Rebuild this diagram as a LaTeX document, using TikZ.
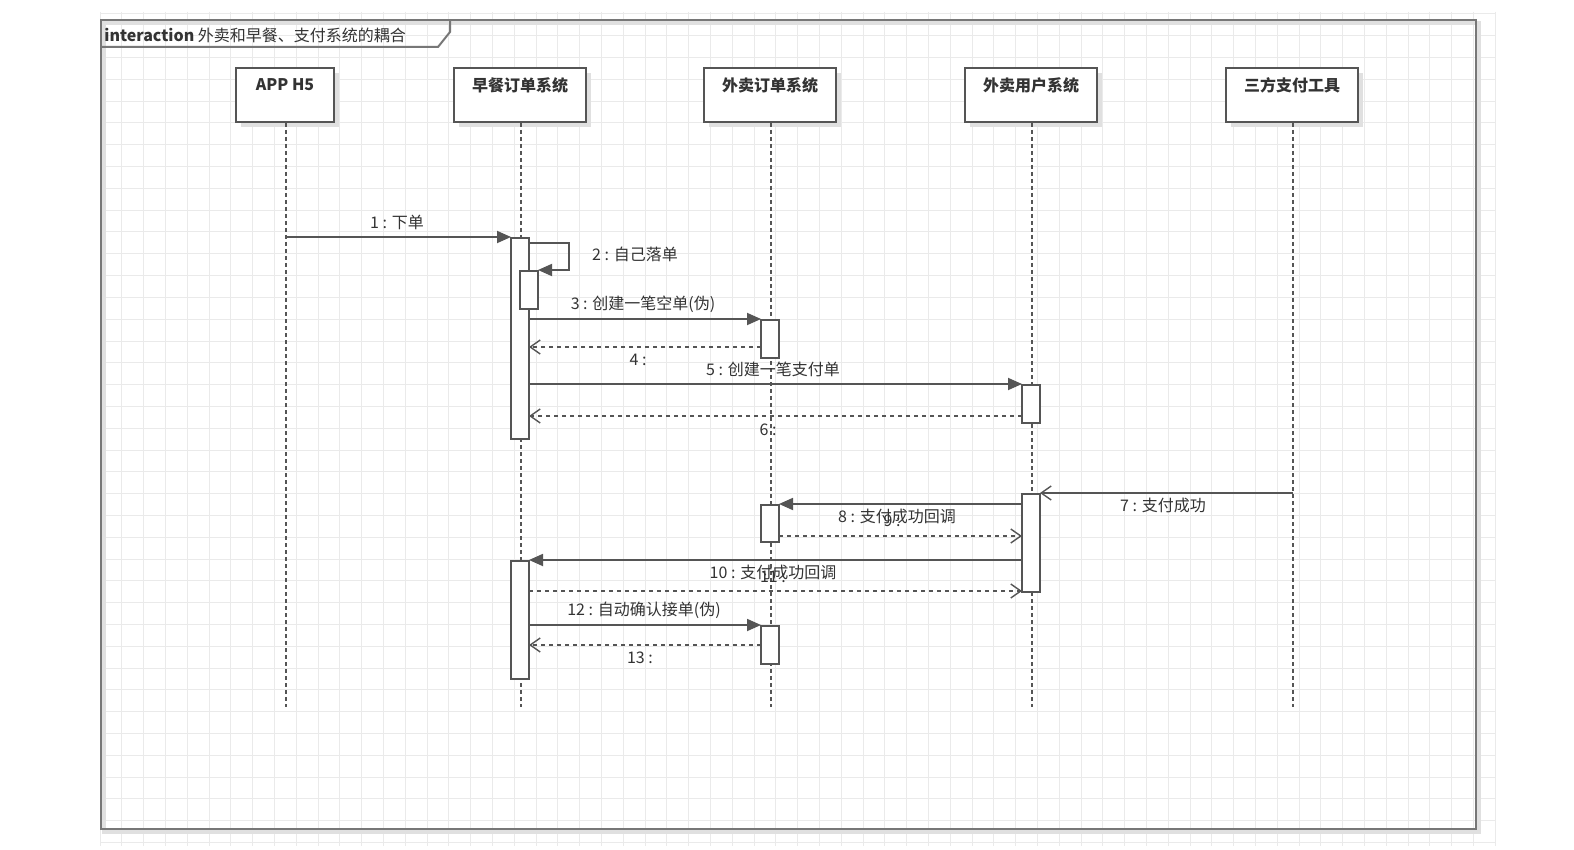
\documentclass[tikz,border=0pt]{standalone}
\usepackage{fontspec}
\setmainfont{Noto Sans CJK SC}
\usetikzlibrary{arrows.meta,shadows}
\definecolor{linec}{HTML}{555555}
\definecolor{txtc}{HTML}{333333}
\definecolor{gridc}{HTML}{EAEAEA}
\tikzset{
  head/.style={draw=linec, line width=1pt, fill=white, minimum width=66pt, minimum height=27pt, inner sep=0pt,
    drop shadow={shadow xshift=2.5pt, shadow yshift=-2.5pt, fill=black!12, opacity=1}},
  headtxt/.style={font=\bfseries\fontsize{8}{9}\selectfont, text=txtc, inner sep=0pt},
  life/.style={draw=linec, dash pattern=on 2pt off 1.5pt, line width=0.6pt},
  act/.style={draw=linec, line width=0.9pt, fill=white, minimum width=9pt, inner sep=0pt},
  msg/.style={draw=linec, line width=0.9pt, -{Triangle[length=7pt,width=6pt]}},
  async/.style={draw=linec, line width=0.9pt, -{Straight Barb[length=5pt,width=7pt,line width=0.7pt]}},
  ret/.style={draw=linec, line width=0.7pt, dash pattern=on 2pt off 2pt, -{Straight Barb[length=5pt,width=7pt,line width=0.7pt,sep=0pt]}},
  lbl/.style={font=\fontsize{8}{9}\selectfont, text=txtc, inner sep=0pt},
}
\begin{document}
\begin{tikzpicture}[x=0.5pt,y=-0.5pt]
\useasboundingbox (0,0) rectangle (1574,850);
\fill[white] (0,0) rectangle (1574,850);
% grid
\foreach \i in {0,...,64} {\draw[gridc, line width=0.5pt] ({100+21.8*\i},12) -- ({100+21.8*\i},846);}
\foreach \j in {0,...,38} {\draw[gridc, line width=0.5pt] (100,{14+21.8*\j}) -- (1496,{14+21.8*\j});}
% frame
\draw[black!12, line width=2pt] (104,23) rectangle (1479,832);
\draw[linec!80, line width=1.2pt] (101,20) rectangle (1476,829);
\node[lbl, anchor=west] (frametxt) at (104,35) {\textbf{interaction} 外卖和早餐、支付系统的耦合};
\draw[linec!80, line width=1pt] (101,47) -- (438,47) -- (450,32) -- (450,20);
% heads
\node[head, minimum width=49pt] (h1) at (285,95) {};
\node[head] (h2) at (520,95) {};
\node[head] (h3) at (770,95) {};
\node[head] (h4) at (1031,95) {};
\node[head] (h5) at (1292,95) {};
\node[headtxt] (t1) at (285,85) {APP H5};
\node[headtxt] (t2) at (520,85) {早餐订单系统};
\node[headtxt] (t3) at (770,85) {外卖订单系统};
\node[headtxt] (t4) at (1031,85) {外卖用户系统};
\node[headtxt] (t5) at (1292,85) {三方支付工具};
% lifelines
\coordinate (e1) at (286,707);
\coordinate (e2) at (521,707);
\coordinate (e3) at (771,707);
\coordinate (e4) at (1032,707);
\coordinate (e5) at (1293,707);
\draw[life] (h1.south -| e1) -- (e1);
\draw[life] (h2.south -| e2) -- (e2);
\draw[life] (h3.south -| e3) -- (e3);
\draw[life] (h4.south -| e4) -- (e4);
\draw[life] (h5.south -| e5) -- (e5);
% activations
\node[act, minimum height=100.5pt, anchor=north] (a1) at (520,237) {};
\node[act, minimum height=19pt, anchor=north] (a2) at (529,270) {};
\node[act, minimum height=19pt, anchor=north] (b1) at (770,319) {};
\node[act, minimum height=19pt, anchor=north] (c1) at (1031,384) {};
\node[act, minimum height=49pt, anchor=north] (c2) at (1031,493) {};
\node[act, minimum height=18.5pt, anchor=north] (b2) at (770,504) {};
\node[act, minimum height=59pt, anchor=north] (a3) at (520,560) {};
\node[act, minimum height=19pt, anchor=north] (b3) at (770,625) {};
% message points
\coordinate (m1s) at (286,237); \coordinate (m1e) at (511,237);
\coordinate (m2a) at (529,243); \coordinate (m2b) at (569,243); \coordinate (m2c) at (569,270); \coordinate (m2e) at (538,270);
\coordinate (m3s) at (529,319); \coordinate (m3e) at (761,319);
\coordinate (m4s) at (761,347); \coordinate (m4e) at (529,347);
\coordinate (m5s) at (529,384); \coordinate (m5e) at (1022,384);
\coordinate (m6s) at (1022,416); \coordinate (m6e) at (529,416);
\coordinate (m7s) at (1293,493); \coordinate (m7e) at (1040,493);
\coordinate (m8s) at (1022,504); \coordinate (m8e) at (779,504);
\coordinate (m9s) at (779,536); \coordinate (m9e) at (1022,536);
\coordinate (m10s) at (1022,560); \coordinate (m10e) at (529,560);
\coordinate (m11s) at (529,591); \coordinate (m11e) at (1022,591);
\coordinate (m12s) at (529,625); \coordinate (m12e) at (761,625);
\coordinate (m13s) at (761,645); \coordinate (m13e) at (529,645);
\draw[msg] (m1s) -- (m1e);
\draw[msg] (m2a) -- (m2b) -- (m2c) -- (m2e);
\draw[msg] (m3s) -- (m3e);
\draw[ret] (m4s) -- (m4e);
\draw[msg] (m5s) -- (m5e);
\draw[ret] (m6s) -- (m6e);
\draw[async] (m7s) -- (m7e);
\draw[msg] (m8s) -- (m8e);
\draw[ret] (m9s) -- (m9e);
\draw[msg] (m10s) -- (m10e);
\draw[ret] (m11s) -- (m11e);
\draw[msg] (m12s) -- (m12e);
\draw[ret] (m13s) -- (m13e);
% labels
\node[lbl] (l1) at (397,222) {1 : 下单};
\node[lbl] (l2) at (635,254) {2 : 自己落单};
\node[lbl] (l3) at (643,304) {3 : 创建一笔空单(伪)};
\node[lbl] (l4) at (638,360) {4 :};
\node[lbl] (l5) at (773,369) {5 : 创建一笔支付单};
\node[lbl] (l6) at (768,430) {6 :};
\node[lbl] (l7) at (1163,505) {7 : 支付成功};
\node[lbl] (l8) at (897,516) {8 : 支付成功回调};
\node[lbl] (l9) at (892,521) {9 :};
\node[lbl] (l10) at (773,572) {10 : 支付成功回调};
\node[lbl] (l11) at (773,577) {11 :};
\node[lbl] (l12) at (644,610) {12 : 自动确认接单(伪)};
\node[lbl] (l13) at (640,658) {13 :};
\end{tikzpicture}
\end{document}
